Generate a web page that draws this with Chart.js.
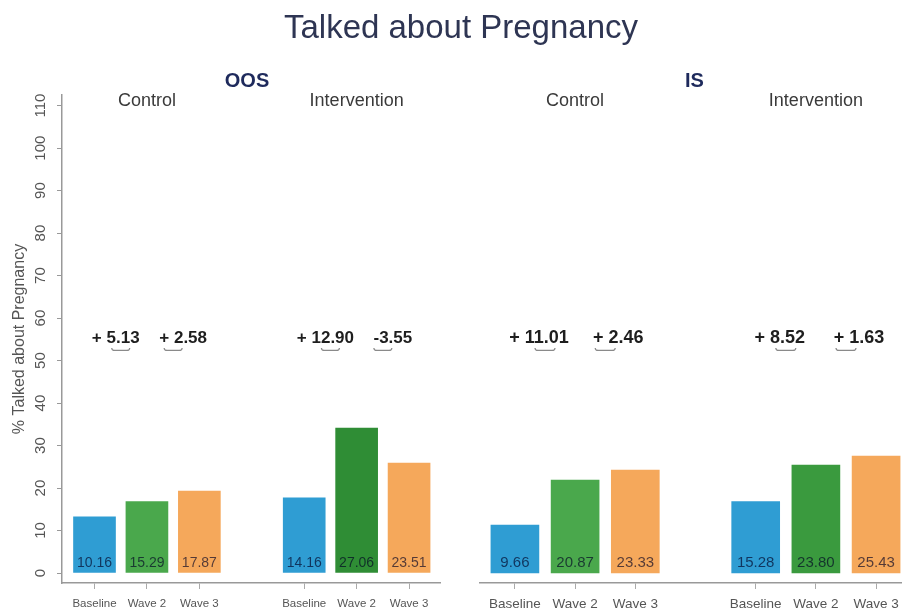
<!DOCTYPE html>
<html><head><meta charset="utf-8">
<script src="https://cdn.jsdelivr.net/npm/chart.js@4/dist/chart.umd.min.js"></script>
<style>
html,body{margin:0;padding:0;background:#fff;overflow:hidden;width:902px;height:614px;position:relative;}
#title{position:absolute;left:0;top:8px;width:922px;text-align:center;font:33px "Liberation Sans",Arial,sans-serif;color:#2e3553;line-height:38px;}
#ca{position:absolute;left:0;top:0;}
#cb{position:absolute;left:460px;top:0;}
</style></head><body>
<canvas id="ca" width="455" height="614"></canvas>
<canvas id="cb" width="460" height="614"></canvas>
<div id="title">Talked about Pregnancy</div>
<script>
// ---------- data ----------
const chartTitle = "Talked about Pregnancy";
const yTitle = "% Talked about Pregnancy";
const waves = ["Baseline", "Wave 2", "Wave 3"];
const groups = ["Control", "Intervention"];
const panels = ["OOS", "IS"];
const yTickValues = [0, 10, 20, 30, 40, 50, 60, 70, 80, 90, 100, 110];

// bar heights as drawn in the picture
const oosControl = [13.2, 16.8, 19.3];
const oosIntervention = [17.7, 34.1, 25.9];
const isControl = [11.3, 21.9, 24.2];
const isIntervention = [16.8, 25.4, 27.5];

// printed values inside the bars
const oosControlLabels = ["10.16", "15.29", "17.87"];
const oosInterventionLabels = ["14.16", "27.06", "23.51"];
const isControlLabels = ["9.66", "20.87", "23.33"];
const isInterventionLabels = ["15.28", "23.80", "25.43"];

// change annotations between waves
const oosControlChange = ["+ 5.13", "+ 2.58"];
const oosInterventionChange = ["+ 12.90", "-3.55"];
const isControlChange = ["+ 11.01", "+ 2.46"];
const isInterventionChange = ["+ 8.52", "+ 1.63"];
const changeLevel = 55.2;

// ---------- styles ----------
const FONT = '"Liberation Sans", Arial, Helvetica, sans-serif';
const BLUE = '#2f9dd3', GREEN_L = '#4aa84c', GREEN_D = '#2f8d35', GREEN_D2 = '#3a9a3e', ORANGE = '#f5a85b';
const AXIS = '#999999';

function slots(control, intervention) {
  return control.map((v, i) => ({x: i, y: v})).concat(intervention.map((v, i) => ({x: 4 + i, y: v})));
}

function overlay(cfg) {
  return {
    id: 'overlay',
    afterDatasetsDraw(chart) {
      const ctx = chart.ctx, xs = chart.scales.x, ys = chart.scales.y, area = chart.chartArea;
      const meta = chart.getDatasetMeta(0);
      ctx.save();
      ctx.textAlign = 'center';
      ctx.textBaseline = 'middle';
      // values inside bars
      ctx.font = cfg.valueFont;
      ctx.fillStyle = 'rgba(0,0,35,0.66)';
      meta.data.forEach((bar, i) => {
        ctx.fillText(cfg.labels[i], bar.x, ys.getPixelForValue(0) - 10);
      });
      // group headers
      ctx.font = cfg.groupFont;
      ctx.fillStyle = '#3a3a3a';
      groups.forEach((g, k) => ctx.fillText(g, xs.getPixelForValue(k * 4 + 1), 101));
      // panel name
      ctx.font = cfg.panelFont;
      ctx.fillStyle = '#1e2a5c';
      ctx.fillText(cfg.panel, (area.left + area.right) / 2 + cfg.panelShift, 81);
      // change annotations
      cfg.changes.forEach((pair, k) => {
        pair.forEach((txt, j) => {
          const a = xs.getPixelForValue(k * 4 + j), b = xs.getPixelForValue(k * 4 + j + 1);
          const mid = (a + b) / 2;
          const y = ys.getPixelForValue(changeLevel);
          ctx.font = cfg.changeFont;
          ctx.fillStyle = '#1e1e1e';
          ctx.fillText(txt, mid + cfg.changeShift[j], y);
          // small brace under the number
          ctx.strokeStyle = '#8a8a8a';
          ctx.lineWidth = 1.2;
          const w = cfg.braceW / 2, by = y + 11;
          ctx.beginPath();
          ctx.moveTo(mid - w, by - 1.5);
          ctx.quadraticCurveTo(mid - w, by + 1, mid - w + 3, by + 1);
          ctx.lineTo(mid + w - 3, by + 1);
          ctx.quadraticCurveTo(mid + w, by + 1, mid + w, by - 1.5);
          ctx.stroke();
        });
      });
      // rotated y tick labels
      if (cfg.yTicks) {
        ctx.font = cfg.yTickFont;
        ctx.fillStyle = '#555';
        ys.ticks.forEach(t => {
          ctx.save();
          ctx.translate(41, ys.getPixelForValue(t.value));
          ctx.rotate(-Math.PI / 2);
          ctx.fillText(String(t.value), 0, 0);
          ctx.restore();
        });
      }
      ctx.restore();
    }
  };
}

function makeChart(canvas, opt) {
  return new Chart(canvas, {
    type: 'bar',
    data: {
      datasets: [{
        data: slots(opt.control, opt.intervention),
        backgroundColor: [BLUE, GREEN_L, ORANGE, BLUE, opt.darkGreen, ORANGE],
        borderWidth: 0,
        barThickness: opt.barThickness
      }]
    },
    options: {
      responsive: false,
      animation: false,
      devicePixelRatio: 1,
      layout: {padding: {top: 95, left: opt.padLeft, right: opt.padRight, bottom: 0}},
      plugins: {legend: {display: false}, tooltip: {enabled: false}, title: {display: false}},
      scales: {
        x: {
          type: 'linear',
          offset: false,
          min: opt.xMin, max: opt.xMax,
          afterBuildTicks: s => { s.ticks = [0, 1, 2, 4, 5, 6].map(v => ({value: v})); },
          afterFit: s => { s.height = 31; },
          ticks: {
            callback: v => waves[v % 4],
            font: {family: FONT, size: opt.catSize},
            color: '#555',
            padding: opt.catPad,
            maxRotation: 0, minRotation: 0, autoSkip: false
          },
          grid: {offset: false, drawOnChartArea: false, drawTicks: true, tickLength: 6, color: '#aaa'},
          border: {display: true, color: AXIS, width: 1.5}
        },
        y: {
          display: opt.showY,
          min: -2.35, max: 112.5,
          afterBuildTicks: s => { s.ticks = yTickValues.map(v => ({value: v})); },
          afterFit: s => { s.width = opt.showY ? 62 : 0; },
          ticks: {display: false},
          grid: {drawOnChartArea: false, drawTicks: true, tickLength: 5, color: AXIS},
          border: {display: true, color: AXIS, width: 1.5},
          title: {display: opt.showY, text: yTitle, color: '#555',
                  font: {family: FONT, size: 16}, padding: {top: 10, bottom: 0}}
        }
      }
    },
    plugins: [overlay(opt)]
  });
}

makeChart(document.getElementById('ca'), {
  control: oosControl, intervention: oosIntervention,
  labels: oosControlLabels.concat(oosInterventionLabels),
  changes: [oosControlChange, oosInterventionChange],
  panel: panels[0], panelShift: -4,
  darkGreen: GREEN_D, barThickness: 42,
  padLeft: 0, padRight: 15, xMin: -0.62, xMax: 6.59,
  showY: true, yTicks: true,
  catSize: 11.5, catPad: 8, valueFont: '14px ' + FONT, groupFont: '18px ' + FONT,
  panelFont: 'bold 20px ' + FONT, changeFont: 'bold 17px ' + FONT,
  yTickFont: '15px ' + FONT, changeShift: [-5, 10], braceW: 18
});

makeChart(document.getElementById('cb'), {
  control: isControl, intervention: isIntervention,
  labels: isControlLabels.concat(isInterventionLabels),
  changes: [isControlChange, isInterventionChange],
  panel: panels[1], panelShift: -1,
  darkGreen: GREEN_D2, barThickness: 48,
  padLeft: 20, padRight: 9, xMin: -0.58, xMax: 6.58,
  showY: false, yTicks: false,
  catSize: 13.5, catPad: 7, valueFont: '15px ' + FONT, groupFont: '18px ' + FONT,
  panelFont: 'bold 20px ' + FONT, changeFont: 'bold 18px ' + FONT,
  yTickFont: '15px ' + FONT, changeShift: [-6, 13], braceW: 20
});
</script>
</body></html>
